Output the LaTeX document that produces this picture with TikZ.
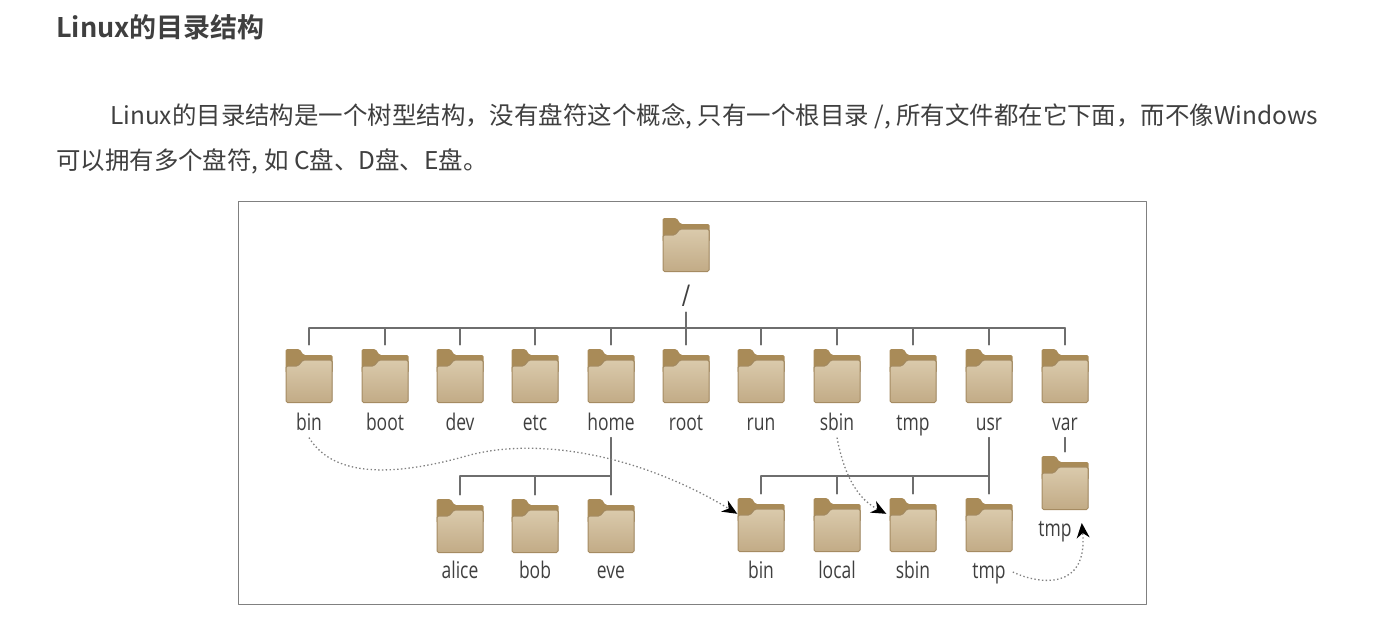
\documentclass[tikz,border=0pt]{standalone}
\usepackage{fontspec}
\newfontfamily\cjk[BoldFont=Noto Sans CJK SC Bold]{Noto Sans CJK SC}
\newfontfamily\labelfont[FakeStretch=0.76]{Open Sans}
\usetikzlibrary{arrows.meta}
\definecolor{folderback}{HTML}{A98B58}
\definecolor{foldertop}{HTML}{DACAAC}
\definecolor{folderbot}{HTML}{C2AB86}
\definecolor{folderedge}{HTML}{A58B62}
\definecolor{inktext}{HTML}{3F3F3F}
\definecolor{treeline}{HTML}{6E6E6E}
\definecolor{linkline}{HTML}{808080}
\tikzset{
  folder/.style={minimum width=47pt, minimum height=54pt, inner sep=0pt, path picture={
    \coordinate (nw) at (path picture bounding box.north west);
    \fill[folderback,rounded corners=1.5pt] (nw) -- ++(14,0) -- ++(4,6) -- ++(29,0) -- ++(0,18) -- ++(-47,0) -- cycle;
    \fill[top color=foldertop,bottom color=folderbot,draw=folderedge,line width=1pt,rounded corners=1.5pt]
      ([shift={(0.5,17)}]nw) -- ++(12,0) -- ++(5,-6) -- ++(29,0) -- ++(0,42.5) -- ++(-46,0) -- cycle;
  }},
  dirlabel/.style={font=\labelfont\fontsize{23}{25}\selectfont, text=inktext, text height=17pt, text depth=5pt, minimum height=26pt, inner sep=0pt},
  conn/.style={draw=treeline, line width=1.5pt, shorten >=4pt},
  bus/.style={draw=treeline, line width=1.5pt},
  link/.style={draw=linkline, line width=1.3pt, dash pattern=on 1.4pt off 2.4pt, line cap=butt, -{Stealth[length=15pt,width=13pt,black]}},
  para/.style={anchor=west, inner sep=0pt, text=inktext, font=\cjk\fontsize{24.45}{28}\selectfont},
}
\begin{document}
\begin{tikzpicture}[x=1pt, y=-1pt, line join=round, line cap=round]
\useasboundingbox (0,0) rectangle (1384,634);
\node[para, font=\cjk\bfseries\fontsize{27}{30}\selectfont] (heading) at (56,27) {Linux的目录结构};
\node[para] (lineone) at (110,116) {Linux的目录结构是一个树型结构，没有盘符这个概念, 只有一个根目录 /, 所有文件都在它下面，而不像Windows};
\node[para] (linetwo) at (56,161) {可以拥有多个盘符, 如 C盘、D盘、E盘。};
\node[draw=gray, line width=1pt, minimum width=908pt, minimum height=403pt, anchor=north west, inner sep=0pt] (frame) at (238,201) {};
% top folder
\node[folder] (root) at (686,245) {};
\node[dirlabel, font=\labelfont\fontsize{30}{32}\selectfont, text height=24pt, text depth=6pt, minimum height=30pt] (rootl) at (686,297) {/};
% first row
\foreach \name/\px in {bin/309,boot/385,dev/460,etc/535,home/611,rootdir/686,run/761,sbin/837,tmp/913,usr/989,var/1065}{
  \node[folder] (\name) at (\px,376) {};
}
\foreach \name/\txt in {bin/bin,boot/boot,dev/dev,etc/etc,home/home,rootdir/root,run/run,sbin/sbin,tmp/tmp,usr/usr,var/var}{
  \node[dirlabel, below=8pt] (\name l) at (\name.south) {\txt};
}
\coordinate (busa) at (309,328);
\coordinate (busb) at (1065,328);
\draw[bus] (busa) -- (busb);
\draw[conn] (rootl.south) -- (rootdir.north);
\foreach \name in {bin,boot,dev,etc,home,run,sbin,tmp,usr,var}{
  \draw[conn] (\name.north |- busa) -- (\name.north);
}
% second row
\foreach \name/\px/\py/\txt in {alice/460/526/alice,bob/535/526/bob,eve/611/526/eve,ubin/761/525/bin,ulocal/837/525/local,usbin/913/525/sbin,utmp/989/525/tmp}{
  \node[folder] (\name) at (\px,\py) {};
  \node[dirlabel] (\name l) at (\px,572) {\txt};
}
\coordinate (busc) at (460,476);
\coordinate (busd) at (761,476);
\draw[bus] (busc) -- (busc -| home.south);
\draw[bus] (busd) -- (busd -| usr.south);
\draw[conn] (homel.south) -- (eve.north);
\draw[conn] (usrl.south) -- (utmp.north);
\foreach \name in {alice,bob}{
  \draw[conn] (\name.north |- busc) -- (\name.north);
}
\foreach \name in {ubin,ulocal,usbin}{
  \draw[conn] (\name.north |- busd) -- (\name.north);
}
% var/tmp
\node[folder] (vtmp) at (1065,483) {};
\node[dirlabel] (vtmpl) at (1055,530) {tmp};
\draw[conn] (varl.south) -- (vtmp.north);
% links
\draw[link] (binl.south) .. controls (335,480) and (400,475) .. (470,455) .. controls (540,437) and (640,455) .. ([yshift=-16pt]ubin.north west);
\draw[link] (sbinl.south) .. controls (845,480) and (860,500) .. ([shift={(-3pt,-16pt)}]usbin.north west);
\draw[link] ([xshift=7pt]utmpl.east) .. controls (1040,585) and (1088,590) .. ([xshift=10pt,yshift=7pt]vtmpl.east);
\end{tikzpicture}
\end{document}
